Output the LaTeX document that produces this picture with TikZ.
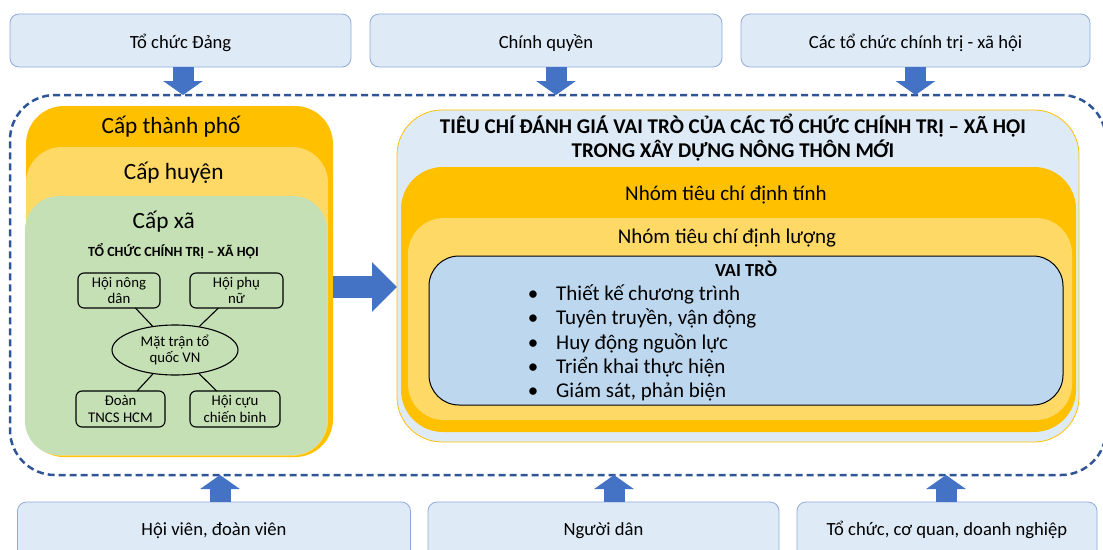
\documentclass[tikz,border=0pt]{standalone}
\usepackage{fontspec}
\setmainfont{Carlito}
\usetikzlibrary{shapes.geometric,arrows.meta}
\definecolor{lblue}{HTML}{DEEBF7}
\definecolor{lbord}{HTML}{8FAADC}
\definecolor{orng}{HTML}{FFC000}
\definecolor{ylw}{HTML}{FFD966}
\definecolor{grn}{HTML}{C5E0B4}
\definecolor{vblue}{HTML}{BDD7EE}
\definecolor{arrowblue}{HTML}{4472C4}
\definecolor{dashblue}{HTML}{2F5597}
\tikzset{
  box/.style={rectangle, inner sep=0pt, outer sep=0pt},
  srcbox/.style={box, fill=lblue, draw=lbord, line width=0.8pt, rounded corners=9pt},
  orgbox/.style={box, draw=black, line width=1.1pt, rounded corners=6pt},
  txt/.style={inner sep=0pt, anchor=base},
  blkv/.style={arrowblue, line width=21pt, -{Triangle[length=14pt,width=39pt]}},
  blkh/.style={arrowblue, line width=22pt, -{Triangle[length=25pt,width=48pt]}},
  link/.style={draw=black, line width=1.1pt}
}
\newcommand\fs[1]{\fontsize{#1}{1.2\dimexpr#1pt\relax}\selectfont}
\newcommand\fss[2]{\fontsize{#1}{#2}\selectfont}
\begin{document}
\begin{tikzpicture}[x=1pt,y=-1pt]
\useasboundingbox (0,0) rectangle (1103,549);
% dashed container
\node[box, draw=dashblue, line width=2.5pt, dash pattern=on 7pt off 4pt, rounded corners=45pt, minimum width=1096pt, minimum height=380pt] (cont) at (558,285) {};
% top boxes
\node[srcbox, minimum width=341pt, minimum height=53pt] (t1) at (180.5,40.5) {};
\node[srcbox, minimum width=352pt, minimum height=53pt] (t2) at (546,40.5) {};
\node[srcbox, minimum width=349pt, minimum height=53pt] (t3) at (915.5,40.5) {};
\node[txt, font=\fs{18.6}] (t1t) at (180.5,48) {Tổ chức Đảng};
\node[txt, font=\fs{18.6}] (t2t) at (546,48) {Chính quyền};
\node[txt, font=\fs{18.6}] (t3t) at (915.5,48) {Các tổ chức chính trị - xã hội};
% bottom boxes
\node[srcbox, minimum width=393pt, minimum height=60pt] (b1) at (214,532) {};
\node[srcbox, minimum width=351pt, minimum height=60pt] (b2) at (603.5,532) {};
\node[srcbox, minimum width=300pt, minimum height=60pt] (b3) at (947,532) {};
\node[txt, font=\fs{18.6}] (b1t) at (214,535) {Hội viên, đoàn viên};
\node[txt, font=\fs{18.6}] (b2t) at (603.5,535) {Người dân};
\node[txt, font=\fs{18.6}] (b3t) at (947,535) {Tổ chức, cơ quan, doanh nghiệp};
% arrows top/bottom
\draw[blkv] ([xshift=2.5pt]t1.south) -- ([xshift=2.5pt]t1.south |- cont.north);
\draw[blkv] ([xshift=10pt]t2.south) -- ([xshift=10pt]t2.south |- cont.north);
\draw[blkv] (t3.south) -- (t3.south |- cont.north);
\draw[blkv] ([xshift=6pt]b1.north) -- ([xshift=6pt]b1.north |- cont.south);
\draw[blkv] ([xshift=10.5pt]b2.north) -- ([xshift=10.5pt]b2.north |- cont.south);
\draw[blkv] ([xshift=-1pt]b3.north) -- ([xshift=-1pt]b3.north |- cont.south);
% left stack
\node[box, fill=orng, rounded corners=38pt, minimum width=307pt, minimum height=351pt] (cthp) at (179.5,281.5) {};
\node[box, fill=ylw, rounded corners=36pt, minimum width=302pt, minimum height=309pt] (chuyen) at (177,301.5) {};
\node[box, fill=grn, rounded corners=34pt, minimum width=302pt, minimum height=259pt] (cxa) at (176,325.5) {};
\node[txt, font=\fs{23.3}] (cthpt) at (171,133) {Cấp thành phố};
\node[txt, font=\fs{23.3}] (chuyent) at (173.7,179) {Cấp huyện};
\node[txt, font=\fs{23.3}] (cxat) at (163.7,228) {Cấp xã};
\node[txt, font=\bfseries\fs{14}] (ctct) at (173.5,256) {TỔ CHỨC CHÍNH TRỊ – XÃ HỘI};
% organisations
\node[orgbox, minimum width=82pt, minimum height=35pt, align=center, font=\fss{14.8}{16.7}] (hnd) at (119,290.5) {Hội nông\\dân};
\node[orgbox, minimum width=93pt, minimum height=35pt, align=center, font=\fss{14.8}{16.7}] (hpn) at (236.5,290.5) {Hội phụ\\nữ};
\node[ellipse, draw=black, line width=1.1pt, inner sep=0pt, minimum width=126pt, minimum height=50pt, align=center, font=\fss{14.8}{16.7}] (mt) at (175,350) {Mặt trận tổ\\quốc VN};
\node[orgbox, minimum width=89pt, minimum height=36pt, align=center, font=\fss{14.8}{16.7}] (doan) at (120.5,409) {Đoàn\\TNCS HCM};
\node[orgbox, minimum width=90pt, minimum height=36pt, align=center, font=\fss{14.8}{16.7}] (hccb) at (235,409) {Hội cựu\\chiến binh};
\draw[link] (hnd) -- (mt);
\draw[link] (hpn) -- (mt);
\draw[link] (doan) -- (mt);
\draw[link] (hccb) -- (mt);
% right stack
\node[box, fill=lblue, draw=orng, line width=0.8pt, rounded corners=45pt, minimum width=682pt, minimum height=332pt] (outer) at (738,276) {};
\node[box, fill=orng, rounded corners=42pt, minimum width=675pt, minimum height=265pt] (dinhtinh) at (738.5,299.5) {};
\node[box, fill=ylw, rounded corners=36pt, minimum width=664pt, minimum height=202pt] (dinhluong) at (740,319) {};
\node[box, fill=vblue, draw=black, line width=1pt, rounded corners=30pt, minimum width=634pt, minimum height=149pt] (vaitro) at (746,330.5) {};
\node[txt, font=\bfseries\fs{21}] (title1) at (733,133) {TIÊU CHÍ ĐÁNH GIÁ VAI TRÒ CỦA CÁC TỔ CHỨC CHÍNH TRỊ – XÃ HỘI};
\node[txt, font=\bfseries\fs{21}] (title2) at (733,157) {TRONG XÂY DỰNG NÔNG THÔN MỚI};
\node[txt, font=\fs{21}] (dtt) at (726,200) {Nhóm tiêu chí định tính};
\node[txt, font=\fs{21}] (dlt) at (727,243) {Nhóm tiêu chí định lượng};
\node[txt, font=\bfseries\fs{18.4}] (vtt) at (746,276) {VAI TRÒ};
\foreach \n/\yy/\s in {1/300/{Thiết kế chương trình},2/324.5/{Tuyên truyền, vận động},3/349/{Huy động nguồn lực},4/373/{Triển khai thực hiện},5/397.5/{Giám sát, phản biện}}{
  \node[txt, font=\fs{21}] (bul\n) at (533,\yy) {\textbullet};
  \node[txt, anchor=base west, font=\fs{21}] (role\n) at (556,\yy) {\s};
}
% main arrow
\draw[blkh] ([yshift=-5.5pt]cthp.east) -- ([yshift=-5.5pt]cthp.east -| outer.west);
\end{tikzpicture}
\end{document}
